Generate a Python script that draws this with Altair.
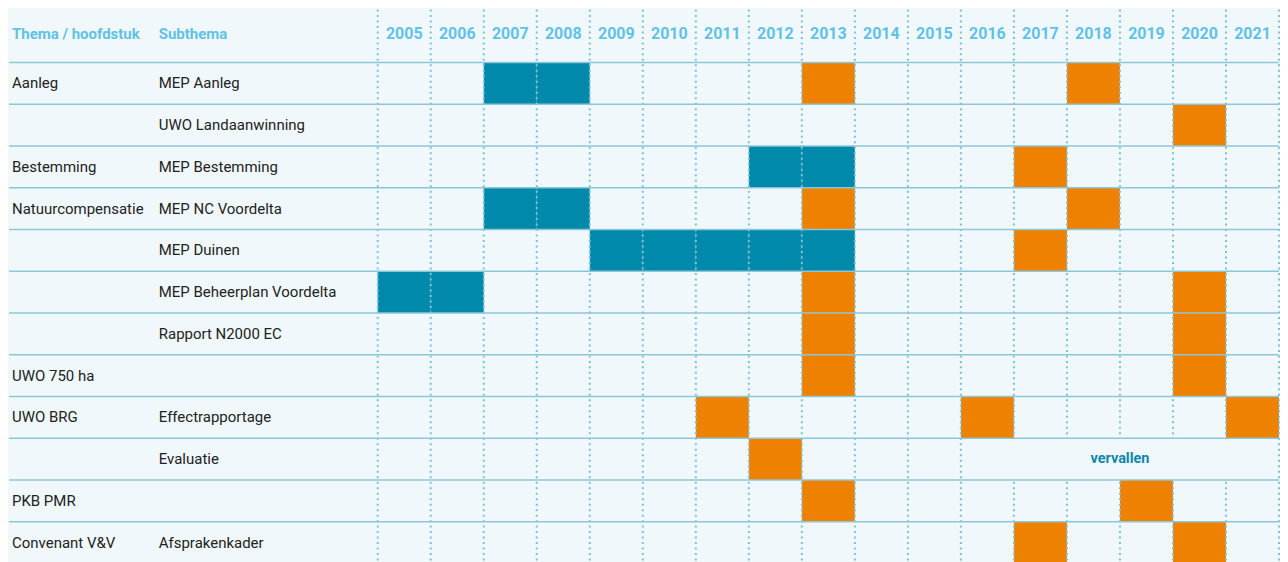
import altair as alt
import pandas as pd

# ---------------- data ----------------
years = list(range(2005, 2022))
themes = ["Aanleg", "", "Bestemming", "Natuurcompensatie", "", "", "",
          "UWO 750 ha", "UWO BRG", "", "PKB PMR", "Convenant V&V"]
subthemes = ["MEP Aanleg", "UWO Landaanwinning", "MEP Bestemming", "MEP NC Voordelta",
             "MEP Duinen", "MEP Beheerplan Voordelta", "Rapport N2000 EC", "",
             "Effectrapportage", "Evaluatie", "", "Afsprakenkader"]
header_labels = ["Thema / hoofdstuk", "Subthema"]

teal_rows = [0, 0, 2, 2, 3, 3, 4, 4, 4, 4, 4, 5, 5]
teal_years = [2007, 2008, 2012, 2013, 2007, 2008, 2009, 2010, 2011, 2012, 2013, 2005, 2006]

orange_rows = [0, 0, 1, 2, 3, 3, 4, 5, 5, 6, 6, 7, 7, 8, 8, 8, 9, 10, 10, 11, 11]
orange_years = [2013, 2018, 2020, 2017, 2013, 2018, 2017, 2013, 2020, 2013, 2020,
                2013, 2020, 2011, 2016, 2021, 2012, 2013, 2019, 2017, 2020]

lapsed_row = 9
lapsed_start = 2016
lapsed_end = 2021
lapsed_text = "vervallen"

# ---------------- layout ----------------
W, H = 1272, 555
n_rows = len(themes)
top = -1.27                      # header height in row units
col_px = 53.1
left = 2005 - 369.3 / col_px     # domain start (label area)
right = left + W / col_px
theme_x = left + 3 / col_px
sub_x = left + 150 / col_px

BG = "#F1F8FC"
TEAL = "#0089AA"
ORANGE = "#EE8200"
HEAD = "#5FC2E7"
GRID_H = "#8CC6D8"
GRID_V = "#7BC2D8"
FONT = "Roboto"

xs = alt.Scale(domain=[left, right], nice=False, zero=False)
ys = alt.Scale(domain=[top, n_rows], nice=False, zero=False, reverse=True)

cells = pd.DataFrame({
    "row": teal_rows + orange_rows,
    "year": teal_years + orange_years,
    "kind": ["teal"] * len(teal_rows) + ["orange"] * len(orange_rows),
})
cells["year_end"] = cells["year"] + 1
cells["row_end"] = cells["row"] + 1

cell_layer = alt.Chart(cells).mark_rect(stroke=None).encode(
    x=alt.X("year:Q", scale=xs, axis=None),
    x2="year_end:Q",
    y=alt.Y("row:Q", scale=ys, axis=None),
    y2="row_end:Q",
    color=alt.Color("kind:N", scale=alt.Scale(domain=["teal", "orange"], range=[TEAL, ORANGE]), legend=None),
)

edges = pd.DataFrame({"x": years + [years[-1] + 1]})
edges["y0"] = top
edges["y1"] = n_rows
vlines = alt.Chart(edges).mark_rule(color=GRID_V, strokeWidth=2, strokeDash=[2, 3.5]).encode(
    x=alt.X("x:Q", scale=xs), y=alt.Y("y0:Q", scale=ys), y2="y1:Q"
)

lapsed = pd.DataFrame({"x0": [lapsed_start], "x1": [lapsed_end + 1],
                       "y0": [lapsed_row], "y1": [lapsed_row + 1],
                       "xm": [(lapsed_start + lapsed_end + 1) / 2], "ym": [lapsed_row + 0.5],
                       "t": [lapsed_text]})
cover = alt.Chart(lapsed).mark_rect(fill=BG, x2Offset=-2, xOffset=2).encode(
    x=alt.X("x0:Q", scale=xs), x2="x1:Q", y=alt.Y("y0:Q", scale=ys), y2="y1:Q"
)
lapsed_lbl = alt.Chart(lapsed).mark_text(font=FONT, fontSize=14.5, fontWeight="bold", color="#0E87AC").encode(
    x=alt.X("xm:Q", scale=xs), y=alt.Y("ym:Q", scale=ys), text="t:N"
)

hl = pd.DataFrame({"y": list(range(0, n_rows + 1))})
hl["x0"] = left
hl["x1"] = years[-1] + 1
hlines = alt.Chart(hl).mark_rule(color=GRID_H, strokeWidth=1.6).encode(
    x=alt.X("x0:Q", scale=xs), x2="x1:Q", y=alt.Y("y:Q", scale=ys)
)

yr = pd.DataFrame({"x": [y + 0.5 for y in years], "t": [str(y) for y in years]})
yr["y"] = top / 2
year_lbl = alt.Chart(yr).mark_text(font=FONT, fontSize=16, fontWeight="bold", color=HEAD, dy=-2).encode(
    x=alt.X("x:Q", scale=xs), y=alt.Y("y:Q", scale=ys), text="t:N"
)

hd = pd.DataFrame({"x": [theme_x, sub_x], "t": header_labels})
hd["y"] = top / 2
head_lbl = alt.Chart(hd).mark_text(font=FONT, fontSize=15, fontWeight="bold", color=HEAD, align="left", dy=-2).encode(
    x=alt.X("x:Q", scale=xs), y=alt.Y("y:Q", scale=ys), text="t:N"
)

rows_df = pd.DataFrame({
    "x": [theme_x] * n_rows + [sub_x] * n_rows,
    "y": [i + 0.5 for i in range(n_rows)] * 2,
    "t": themes + subthemes,
})
rows_df = rows_df[rows_df["t"] != ""]
row_lbl = alt.Chart(rows_df).mark_text(font=FONT, fontSize=15, color="#222222", align="left").encode(
    x=alt.X("x:Q", scale=xs), y=alt.Y("y:Q", scale=ys), text="t:N"
)

chart = alt.layer(cell_layer, vlines, cover, lapsed_lbl, hlines, year_lbl, head_lbl, row_lbl).properties(
    width=W, height=H, background=BG, padding=0
).configure_view(stroke=None)

chart.save("out.html", embed_options={"renderer": "svg", "actions": False})
